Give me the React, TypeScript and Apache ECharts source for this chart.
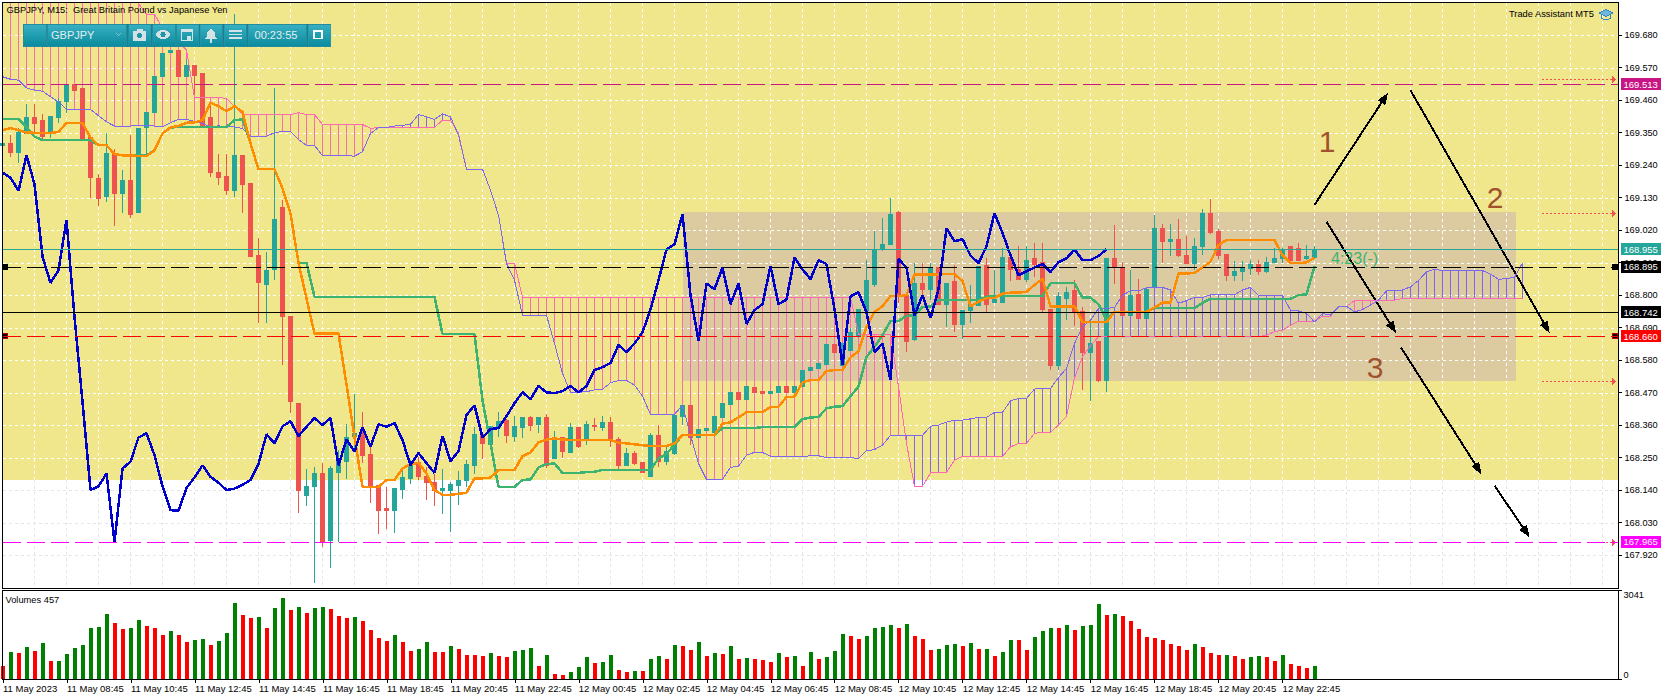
import React, { useEffect, useRef } from "react";
import * as echarts from "echarts";

const FONT = '"Liberation Sans", Arial, sans-serif';

const xTickLabels = [
  "11 May 2023", "11 May 08:45", "11 May 10:45", "11 May 12:45", "11 May 14:45", "11 May 16:45", "11 May 18:45",
  "11 May 20:45", "11 May 22:45", "12 May 00:45", "12 May 02:45", "12 May 04:45", "12 May 06:45", "12 May 08:45",
  "12 May 10:45", "12 May 12:45", "12 May 14:45", "12 May 16:45", "12 May 18:45", "12 May 20:45", "12 May 22:45",
];
const priceTicks = [
  169.68, 169.57, 169.46, 169.35, 169.24, 169.13, 169.02, 168.91, 168.8, 168.69, 168.58, 168.47, 168.36, 168.25,
  168.14, 168.03, 167.92,
];

// [open, close, low, high]
const ohlc = [
  [169.305,169.313,169.300,169.320],[169.313,169.284,169.268,169.341],[169.284,169.351,169.248,169.364],[169.347,169.401,169.347,169.445],
  [169.401,169.381,169.349,169.445],[169.392,169.336,169.328,169.414],[169.347,169.403,169.333,169.407],[169.400,169.455,169.381,169.467],
  [169.454,169.511,169.417,169.511],[169.511,169.491,169.491,169.511],[169.499,169.330,169.330,169.499],[169.333,169.197,169.129,169.333],
  [169.196,169.128,169.102,169.211],[169.132,169.280,169.116,169.347],[169.279,169.143,169.033,169.293],[169.143,169.186,169.076,169.223],
  [169.186,169.074,169.061,169.341],[169.078,169.365,169.078,169.365],[169.367,169.419,169.273,169.419],[169.417,169.541,169.417,169.541],
  [169.539,169.618,169.539,169.618],[169.620,169.629,169.620,169.629],[169.629,169.539,169.539,169.629],[169.539,169.578,169.539,169.600],
  [169.578,169.544,169.480,169.578],[169.551,169.367,169.367,169.551],[169.402,169.214,169.200,169.454],[169.216,169.197,169.172,169.277],
  [169.202,169.153,169.140,169.277],[169.153,169.273,169.132,169.751],[169.273,169.175,169.078,169.273],[169.179,168.930,168.930,169.179],
  [168.935,168.841,168.704,168.992],[168.837,168.884,168.704,168.946],[168.887,169.054,168.850,169.499],[169.096,168.726,168.563,169.121],
  [168.729,168.439,168.402,168.729],[168.433,168.140,168.063,168.433],[168.123,168.153,168.086,168.213],[168.151,168.196,167.825,168.217],
  [168.196,167.965,167.948,168.232],[167.971,168.213,167.876,168.221],[168.198,168.236,167.963,168.275],[168.236,168.318,168.179,168.365],
  [168.320,168.332,168.270,168.465],[168.337,168.258,168.232,168.404],[168.262,168.153,168.097,168.286],[168.156,168.072,167.991,168.156],
  [168.079,168.070,168.007,168.151],[168.070,168.147,167.995,168.147],[168.143,168.183,168.109,168.208],[168.179,168.224,168.160,168.241],
  [168.232,168.185,168.174,168.253],[168.185,168.165,168.106,168.219],[168.167,168.140,168.086,168.196],[168.140,168.145,168.059,168.213],
  [168.138,168.158,167.998,168.168],[168.155,168.174,168.090,168.204],[168.171,168.228,168.151,168.241],[168.222,168.329,168.194,168.352],
  [168.329,168.298,168.244,168.329],[168.295,168.356,168.275,168.356],[168.352,168.373,168.320,168.403],[168.377,168.323,168.301,168.379],
  [168.320,168.354,168.303,168.390],[168.352,168.384,168.315,168.384],[168.384,168.360,168.341,168.390],[168.361,168.384,168.332,168.384],
  [168.386,168.224,168.215,168.397],[168.248,168.311,168.248,168.341],[168.318,168.270,168.250,168.318],[168.268,168.353,168.266,168.368],
  [168.353,168.286,168.283,168.353],[168.311,168.363,168.292,168.374],[168.360,168.354,168.341,168.384],[168.353,168.367,168.341,168.390],
  [168.370,168.309,168.286,168.386],[168.312,168.224,168.212,168.320],[168.224,168.265,168.224,168.282],[168.265,168.231,168.224,168.272],
  [168.235,168.198,168.198,168.235],[168.185,168.323,168.185,168.334],[168.326,168.238,168.217,168.360],[168.238,168.272,168.224,168.286],
  [168.264,168.394,168.258,168.394],[168.390,168.427,168.360,168.427],[168.427,168.318,168.291,168.427],[168.318,168.346,168.318,168.346],
  [168.343,168.350,168.343,168.350],[168.336,168.390,168.336,168.390],[168.387,168.434,168.387,168.434],[168.431,168.471,168.431,168.471],
  [168.471,168.448,168.448,168.471],[168.448,168.492,168.448,168.492],[168.488,168.471,168.471,168.488],[168.475,168.468,168.468,168.475],
  [168.468,168.475,168.468,168.475],[168.471,168.492,168.471,168.492],[168.492,168.471,168.471,168.492],[168.471,168.492,168.471,168.492],
  [168.490,168.546,168.490,168.546],[168.543,168.556,168.543,168.556],[168.553,168.570,168.553,168.570],[168.566,168.631,168.566,168.631],
  [168.631,168.607,168.607,168.631],[168.563,168.636,168.563,168.636],[168.614,168.674,168.614,168.690],[168.664,168.751,168.655,168.751],
  [168.749,168.850,168.749,168.920],[168.834,168.954,168.826,169.017],[168.954,168.972,168.950,169.060],[168.972,169.074,168.972,169.130],
  [169.078,168.800,168.772,169.083],[168.800,168.644,168.607,168.800],[168.650,168.839,168.644,168.907],[168.839,168.820,168.792,168.909],
  [168.819,168.893,168.783,168.907],[168.893,168.769,168.766,168.893],[168.769,168.839,168.693,168.839],[168.846,168.702,168.676,168.901],
  [168.702,168.749,168.650,168.749],[168.749,168.769,168.704,168.834],[168.766,168.898,168.762,168.898],[168.901,168.769,168.742,168.924],
  [168.774,168.785,168.774,168.884],[168.774,168.927,168.774,168.958],[168.927,168.887,168.848,168.927],[168.887,168.854,168.850,168.965],
  [168.854,168.918,168.845,168.965],[168.925,168.905,168.862,168.975],[168.911,168.752,168.738,168.975],[168.752,168.563,168.546,168.752],
  [168.563,168.796,168.548,168.811],[168.790,168.810,168.715,168.828],[168.817,168.742,168.695,168.850],[168.746,168.607,168.478,168.760],
  [168.607,168.636,168.442,168.704],[168.644,168.512,168.506,168.644],[168.512,168.922,168.471,168.922],[168.922,168.893,168.839,169.037],
  [168.893,168.730,168.730,168.913],[168.730,168.800,168.730,168.884],[168.803,168.722,168.722,168.854],[168.719,168.819,168.719,168.819],
  [168.826,169.026,168.826,169.070],[169.026,168.982,168.907,169.040],[168.982,168.989,168.932,169.040],[168.989,168.934,168.929,169.057],
  [168.935,168.908,168.908,169.000],[168.908,168.965,168.884,168.993],[168.963,169.077,168.935,169.091],[169.077,169.010,169.006,169.125],
  [169.016,168.935,168.922,169.022],[168.938,168.867,168.847,168.938],[168.867,168.881,168.847,168.915],[168.881,168.893,168.847,168.915],
  [168.891,168.905,168.867,168.918],[168.905,168.878,168.867,168.918],[168.879,168.911,168.873,168.929],[168.909,168.924,168.907,168.958],
  [168.924,168.954,168.907,168.958],[168.963,168.918,168.916,168.966],[168.958,168.918,168.916,168.975],[168.924,168.932,168.918,168.969],
  [168.927,168.955,168.927,168.966],
];

const tenkan = [
  169.358,169.365,169.358,169.350,169.349,169.349,169.349,169.352,169.382,169.383,
  169.382,169.333,169.307,169.307,169.277,169.273,169.273,169.270,169.270,169.290,
  169.347,169.367,169.372,169.383,169.384,169.392,169.451,169.439,169.422,169.439,
  169.420,169.313,169.226,169.226,169.226,169.161,169.076,168.909,168.788,168.670,
  168.670,168.670,168.670,168.497,168.320,168.151,168.151,168.151,168.174,168.174,
  168.213,168.228,168.232,168.196,168.140,168.124,168.124,168.127,168.131,168.180,
  168.180,168.182,168.208,168.208,168.208,168.255,168.267,168.302,168.311,168.315,
  168.311,168.310,168.309,168.309,168.309,168.309,168.309,168.300,168.298,168.295,
  168.292,168.289,168.289,168.289,168.298,168.326,168.326,168.326,168.326,168.326,
  168.365,168.369,168.386,168.404,168.404,168.404,168.421,168.422,168.455,168.456,
  168.505,168.512,168.512,168.543,168.546,168.546,168.589,168.610,168.693,168.743,
  168.762,168.796,168.796,168.800,168.870,168.870,168.870,168.870,168.871,168.871,
  168.847,168.762,168.777,168.790,168.790,168.805,168.808,168.808,168.811,168.834,
  168.855,168.762,168.762,168.762,168.762,168.708,168.708,168.708,168.708,168.743,
  168.743,168.743,168.743,168.743,168.758,168.774,168.774,168.873,168.873,168.875,
  168.893,168.913,168.969,168.986,168.986,168.986,168.986,168.986,168.986,168.986,
  168.935,168.908,168.908,168.910,168.927,
];

const kijun = [
  169.396,169.396,169.396,169.369,169.336,169.324,169.324,169.324,169.324,169.324,
  169.324,169.324,169.307,169.307,169.277,169.273,169.273,169.273,169.273,169.290,
  169.347,169.367,169.369,169.369,169.369,169.369,169.369,169.369,169.369,169.392,
  169.394,169.313,169.226,169.226,169.226,169.161,169.076,168.909,168.909,168.794,
  168.794,168.794,168.794,168.794,168.794,168.794,168.794,168.794,168.794,168.794,
  168.794,168.794,168.794,168.794,168.794,168.668,168.668,168.668,168.668,168.668,
  168.444,168.298,168.151,168.151,168.151,168.174,168.176,168.217,168.228,168.230,
  168.198,168.198,168.198,168.201,168.202,168.208,168.208,168.208,168.208,168.208,
  168.208,168.208,168.247,168.262,168.294,168.326,168.326,168.326,168.326,168.326,
  168.350,168.350,168.350,168.350,168.350,168.353,168.353,168.353,168.353,168.353,
  168.380,168.386,168.387,168.417,168.422,168.424,168.458,168.490,168.591,168.625,
  168.664,168.712,168.712,168.729,168.732,168.760,168.762,168.783,168.783,168.783,
  168.783,168.783,168.783,168.794,168.796,168.796,168.796,168.796,168.796,168.796,
  168.796,168.840,168.840,168.840,168.840,168.791,168.791,168.769,168.715,168.743,
  168.743,168.743,168.743,168.743,168.756,168.756,168.756,168.756,168.756,168.756,
  168.774,168.787,168.787,168.787,168.787,168.787,168.787,168.787,168.787,168.787,
  168.787,168.787,168.800,168.802,168.898,
];

const chikou = [
  169.214,169.197,169.153,169.273,169.175,168.930,168.841,168.884,169.054,168.726,
  168.439,168.140,168.153,168.196,167.965,168.213,168.236,168.318,168.332,168.258,
  168.153,168.072,168.070,168.147,168.183,168.224,168.185,168.165,168.140,168.145,
  168.158,168.174,168.228,168.329,168.298,168.356,168.373,168.323,168.354,168.384,
  168.360,168.384,168.224,168.311,168.270,168.353,168.286,168.363,168.354,168.367,
  168.309,168.224,168.265,168.231,168.198,168.323,168.238,168.272,168.394,168.427,
  168.318,168.346,168.350,168.390,168.434,168.471,168.448,168.492,168.471,168.468,
  168.475,168.492,168.471,168.492,168.546,168.556,168.570,168.631,168.607,168.636,
  168.674,168.751,168.850,168.954,168.972,169.074,168.800,168.644,168.839,168.820,
  168.893,168.769,168.839,168.702,168.749,168.769,168.898,168.769,168.785,168.927,
  168.887,168.854,168.918,168.905,168.752,168.563,168.796,168.810,168.742,168.607,
  168.636,168.512,168.922,168.893,168.730,168.800,168.722,168.819,169.026,168.982,
  168.989,168.934,168.908,168.965,169.077,169.010,168.935,168.867,168.881,168.893,
  168.905,168.878,168.911,168.924,168.954,168.918,168.918,168.932,168.955,
];

const spanA = [
  169.539,169.530,169.527,169.501,169.493,169.490,169.471,169.454,169.428,169.428,
  169.428,169.428,169.407,169.386,169.372,169.369,169.372,169.374,169.374,169.372,
  169.369,169.383,169.395,169.395,169.387,169.381,169.369,169.373,169.369,169.369,
  169.364,169.338,169.336,169.338,169.349,169.354,169.354,169.326,169.306,169.306,
  169.272,169.272,169.272,169.272,169.270,169.285,169.347,169.367,169.367,169.372,
  169.374,169.378,169.411,169.403,169.394,169.413,169.403,169.341,169.226,169.226,
  169.226,169.155,169.070,168.907,168.850,168.732,168.732,168.732,168.732,168.636,
  168.535,168.471,168.471,168.473,168.479,168.481,168.503,168.511,168.511,168.495,
  168.458,168.396,168.396,168.396,168.396,168.427,168.326,168.230,168.176,168.176,
  168.176,168.217,168.221,168.258,168.268,168.267,168.255,168.254,168.254,168.254,
  168.254,168.256,168.256,168.250,168.250,168.250,168.250,168.247,168.273,168.277,
  168.292,168.325,168.325,168.325,168.325,168.325,168.356,168.360,168.370,168.377,
  168.377,168.381,168.386,168.386,168.403,168.403,168.442,168.450,168.450,168.482,
  168.484,168.484,168.521,168.552,168.636,168.693,168.715,168.755,168.755,168.758,
  168.800,168.814,168.814,168.825,168.826,168.826,168.817,168.772,168.781,168.792,
  168.792,168.801,168.801,168.801,168.801,168.817,168.826,168.798,168.798,168.798,
  168.798,168.749,168.747,168.738,168.709,168.738,168.732,168.760,168.762,168.743,
  168.751,168.766,168.783,168.814,168.817,168.817,168.828,168.849,168.879,168.887,
  168.883,168.883,168.883,168.883,168.883,168.883,168.871,168.853,168.856,168.860,
  168.909,
];

const spanB = [
  169.850,169.850,169.850,169.850,169.850,169.850,169.850,169.850,169.850,169.850,
  169.850,169.850,169.850,169.850,169.850,169.850,169.821,169.787,169.751,169.751,
  169.702,169.674,169.657,169.629,169.469,169.469,169.469,169.469,169.465,169.437,
  169.411,169.411,169.411,169.411,169.411,169.411,169.411,169.417,169.411,169.411,
  169.377,169.377,169.377,169.377,169.377,169.377,169.364,169.367,169.367,169.367,
  169.367,169.367,169.367,169.367,169.367,169.392,169.392,169.347,169.226,169.226,
  169.226,169.155,169.070,168.907,168.907,168.792,168.792,168.792,168.792,168.792,
  168.792,168.792,168.792,168.792,168.792,168.792,168.792,168.792,168.792,168.792,
  168.792,168.792,168.792,168.792,168.792,168.792,168.792,168.792,168.792,168.792,
  168.792,168.792,168.792,168.792,168.792,168.792,168.792,168.792,168.792,168.792,
  168.792,168.792,168.792,168.792,168.792,168.792,168.792,168.668,168.668,168.668,
  168.668,168.668,168.490,168.298,168.153,168.153,168.198,168.200,168.200,168.241,
  168.254,168.254,168.254,168.254,168.254,168.254,168.286,168.298,168.298,168.332,
  168.335,168.335,168.360,168.390,168.520,168.591,168.628,168.659,168.659,168.659,
  168.659,168.659,168.659,168.659,168.659,168.659,168.659,168.659,168.659,168.659,
  168.659,168.659,168.659,168.659,168.659,168.659,168.659,168.659,168.664,168.676,
  168.681,168.698,168.711,168.711,168.711,168.729,168.729,168.760,168.762,168.781,
  168.781,168.781,168.781,168.783,168.783,168.788,168.788,168.788,168.788,168.788,
  168.788,168.788,168.788,168.788,168.788,168.788,168.788,168.788,168.788,168.788,
  168.788,
];

const volumes = [
  457,937,903,1109,972,1246,629,629,869,1074,1177,1760,1795,2240,1932,1726,1760,2035,1829,1760,
  1520,1657,1520,1280,1349,1383,1177,1314,1589,2617,2206,2103,2137,1760,2446,2789,2377,2480,2275,2446,
  2480,2412,2172,2103,2137,2000,1692,1417,1314,1520,1280,972,1040,1280,937,937,1143,1040,834,834,
  800,903,800,766,972,1006,1074,457,834,183,149,251,423,766,560,594,834,320,251,286,
  286,697,800,697,1177,1143,1006,1280,800,903,869,1143,697,732,697,663,594,903,766,800,
  457,937,697,766,972,1554,1486,1383,1486,1760,1795,1863,1760,1897,1486,1383,1006,1040,1177,1212,
  1143,1246,1040,1040,800,937,1349,1349,1006,1452,1657,1760,1760,1863,1692,1829,1863,2583,2206,2240,
  2172,2000,1726,1452,1417,1349,1212,1143,1006,1212,1109,903,834,834,800,697,766,800,766,629,
  834,526,457,389,457,
];
const volumeDirections = (
  "rgrgrgrggg" + "ggggrrggrr" + "rgrrggrggg" + "rrgrggrgrg" + "grrrgrrrrg" + "rrggrrgrrr" + "rgrrgggrgr" + "rgggrggrrg" +
  "rggrgrrgrg" + "rgrgrrrgrg" + "rgrgggrrgg" + "ggrgrrrggg" + "rgrgrggrrg" + "ggrgrgggrg" + "rrrrrrrrrg" + "rrrgrrggrr" + "grrrg"
).split("");

// price levels drawn across the chart
const levels = [
  { value: 169.513, color: "#C71585", dashed: true },
  { value: 168.955, color: "#26A69A", dashed: false },
  { value: 168.895, color: "#000000", dashed: true },
  { value: 168.742, color: "#000000", dashed: false },
  { value: 168.66, color: "#FF0000", dashed: true },
  { value: 167.965, color: "#FF00FF", dashed: true },
];
// [bar from, price from, bar to, price to]
const shadeBands = [
  [0, 169.79, 202, 168.174],
  [85, 169.081, 189.2, 168.51],
];
const shadeColors = ["#F0E68C", "#DCCBA0"];
const arrowSegments = [
  [164, 169.105, 173.2, 169.485],
  [176, 169.493, 193.4, 168.671],
  [165.5, 169.048, 174.2, 168.671],
  [174.8, 168.623, 184.9, 168.193],
  [186.5, 168.155, 190.9, 167.98],
];
const alertSegments = [
  [192.4, 169.53, 201.7, 169.53],
  [192.4, 169.077, 201.7, 169.077],
  [192.4, 168.508, 201.7, 168.508],
  [200.4, 167.963, 201.7, 167.963],
];
const levelAnchors = [
  [0.3, 168.895, 0],
  [0.3, 168.66, 1],
  [201.5, 168.895, 0],
  [201.5, 168.66, 1],
];

const BAR_SLOTS = 203;
const YELLOW_FLOOR = 168.174;
const categories = Array.from({ length: BAR_SLOTS }, (_, i) => String(i));
const gridBars = Array.from({ length: 50 }, (_, i) => [(i + 1) * 4]);
const gridPrices = priceTicks.map((p) => [p]);
const hatchRows = spanA.map((a, i) => [i, a, spanB[i]]).slice(1);
const PRICE_MIN = 167.8076;
const PRICE_MAX = 169.79;

const toolbarButtons = [
  [23.5, 46], [47.5, 126], [128.5, 150.5], [152.5, 175], [176.5, 198.5], [200, 222], [224, 246], [248, 306], [308, 330.5],
];
const PANES = [
  { left: 2.5, top: 2.5, width: 1616, height: 585.8 },
  { left: 2.5, top: 590.6, width: 1616, height: 88.7 },
];

function buildToolbar() {
  const grad = () =>
    new echarts.graphic.LinearGradient(0, 0, 0, 1, [
      { offset: 0, color: "#37B0C2" },
      { offset: 1, color: "#0B8C9E" },
    ]);
  const icon = "#D5E2E5";
  const children: any[] = [
    { type: "rect", shape: { x: 23, y: 23.5, width: 308, height: 23.5 }, style: { fill: "#1B7F8E" } },
  ];
  toolbarButtons.forEach(([a, b]) => {
    children.push({
      type: "rect",
      shape: { x: a, y: 24.5, width: b - a, height: 21.5 },
      style: { fill: grad(), stroke: "#2B96A6", lineWidth: 0.6 },
    });
  });
  children.push(
    { type: "text", style: { text: "GBPJPY", x: 51, y: 34.5, font: `11px ${FONT}`, fill: "#E3EDEF", textVerticalAlign: "middle" } },
    { type: "polyline", shape: { points: [[116.5, 33.5], [118.5, 35.5], [120.5, 33.5]] }, style: { stroke: "#8FBFC8", fill: "none", lineWidth: 1 } },
    { type: "rect", shape: { x: 133, y: 31, width: 13, height: 9.5 }, style: { fill: icon } },
    { type: "rect", shape: { x: 136.5, y: 29, width: 6, height: 3 }, style: { fill: icon } },
    { type: "circle", shape: { cx: 139.5, cy: 35.5, r: 3 }, style: { fill: "#1E96A8", stroke: icon, lineWidth: 1 } },
    { type: "ellipse", shape: { cx: 163, cy: 34.5, rx: 7, ry: 4.5 }, style: { fill: icon } },
    { type: "circle", shape: { cx: 163, cy: 34.5, r: 2.6 }, style: { fill: "#1E96A8" } },
    { type: "rect", shape: { x: 181.5, y: 30, width: 11, height: 10.5 }, style: { fill: "none", stroke: icon, lineWidth: 1.6 } },
    { type: "rect", shape: { x: 181, y: 29, width: 12, height: 3 }, style: { fill: icon } },
    { type: "rect", shape: { x: 187, y: 35.5, width: 4, height: 4 }, style: { fill: icon } },
    { type: "polygon", shape: { points: [[211, 28.5], [215, 32], [215.5, 37], [217.5, 39], [204.5, 39], [206.5, 37], [207, 32]] }, style: { fill: icon } },
    { type: "circle", shape: { cx: 211, cy: 41, r: 1.6 }, style: { fill: icon } },
    { type: "rect", shape: { x: 229, y: 30, width: 12.5, height: 1.6 }, style: { fill: icon } },
    { type: "rect", shape: { x: 229, y: 33.7, width: 12.5, height: 1.6 }, style: { fill: icon } },
    { type: "rect", shape: { x: 229, y: 37.4, width: 12.5, height: 1.6 }, style: { fill: icon } },
    { type: "text", style: { text: "00:23:55", x: 276, y: 34.5, font: `11px ${FONT}`, fill: "#E3EDEF", textAlign: "center", textVerticalAlign: "middle" } },
    { type: "rect", shape: { x: 314, y: 30.5, width: 8, height: 8 }, style: { fill: "none", stroke: "#FFFFFF", lineWidth: 1.4 } },
    { type: "rect", shape: { x: 314, y: 30, width: 8, height: 2 }, style: { fill: "#FFFFFF" } },
  );
  // children do not inherit the group's z, so each one carries its own
  children.forEach((c, i) => {
    c.z = 50;
    c.z2 = i;
  });
  return { type: "group", children };
}

function buildOption() {
  const xAxisBase = { type: "category", data: categories, boundaryGap: false };
  return {
    animation: false,
    backgroundColor: "#FFFFFF",
    textStyle: { fontFamily: FONT },
    grid: PANES.map((p) => ({ ...p, show: false })),
    xAxis: [
      { ...xAxisBase, gridIndex: 0, axisLabel: { show: false }, axisTick: { show: false }, axisLine: { show: false }, splitLine: { show: false } },
      {
        ...xAxisBase,
        gridIndex: 1,
        axisLine: { show: true, onZero: false, lineStyle: { color: "#000", width: 1 } },
        axisTick: { show: true, length: 4, lineStyle: { color: "#000" }, interval: (i: number) => i % 8 === 0 && i <= 160 },
        splitLine: { show: false },
        axisLabel: {
          show: true,
          interval: (i: number) => i % 8 === 0 && i <= 160,
          formatter: (_: string, i: number) => xTickLabels[i / 8] ?? "",
          align: "left",
          margin: 4,
          fontSize: 9.5,
          color: "#000",
          fontFamily: FONT,
          hideOverlap: false,
        },
      },
      { type: "value", gridIndex: 0, min: 0, max: 202, show: false, splitLine: { show: false } },
    ],
    yAxis: [
      {
        type: "value",
        gridIndex: 0,
        position: "right",
        min: PRICE_MIN,
        max: PRICE_MAX,
        splitLine: { show: false },
        axisLine: { show: true, onZero: false, lineStyle: { color: "#000" } },
        axisTick: { show: true, length: 3, lineStyle: { color: "#000" }, customValues: priceTicks },
        axisLabel: {
          show: true,
          customValues: priceTicks,
          margin: 6,
          fontSize: 9.2,
          color: "#000",
          fontFamily: FONT,
          formatter: (v: number) => v.toFixed(3),
        },
      },
      {
        type: "value",
        gridIndex: 1,
        position: "right",
        min: 0,
        max: 3041,
        interval: 3041,
        splitLine: { show: false },
        axisLine: { show: true, onZero: false, lineStyle: { color: "#000" } },
        axisTick: { show: true, length: 3, lineStyle: { color: "#000" } },
        axisLabel: {
          show: true,
          margin: 5,
          fontSize: 9.2,
          color: "#000",
          fontFamily: FONT,
          formatter: (v: number) => String(v),
          verticalAlignMinLabel: "bottom",
          verticalAlignMaxLabel: "top",
        },
      },
    ],
    series: [
      {
        type: "custom",
        name: "shade",
        xAxisIndex: 2,
        yAxisIndex: 0,
        clip: true,
        silent: true,
        encode: { x: [0, 2], y: [1, 3] },
        data: shadeBands,
        renderItem: (params: any, api: any) => {
          const a = api.coord([api.value(0), api.value(1)]);
          const b = api.coord([api.value(2), api.value(3)]);
          return {
            type: "rect",
            shape: { x: a[0], y: a[1], width: b[0] - a[0], height: b[1] - a[1] },
            style: { fill: shadeColors[params.dataIndex] },
          };
        },
      },
      {
        type: "custom",
        name: "grid bars",
        xAxisIndex: 2,
        yAxisIndex: 0,
        clip: true,
        silent: true,
        encode: { x: 0 },
        data: gridBars,
        renderItem: (_: any, api: any) => {
          const i = api.value(0);
          const top = api.coord([i, PRICE_MAX]);
          const mid = api.coord([i, YELLOW_FLOOR]);
          const bot = api.coord([i, PRICE_MIN]);
          const x = Math.floor(top[0]) + 0.5;
          return {
            type: "group",
            children: [
              { type: "line", shape: { x1: x, y1: top[1], x2: x, y2: mid[1] }, style: { stroke: "#FFFFFF", lineWidth: 1, lineDash: [3, 3] } },
              { type: "line", shape: { x1: x, y1: mid[1], x2: x, y2: bot[1] }, style: { stroke: "#E6E6E6", lineWidth: 1, lineDash: [3, 3] } },
            ],
          };
        },
      },
      {
        type: "custom",
        name: "grid prices",
        xAxisIndex: 2,
        yAxisIndex: 0,
        clip: true,
        silent: true,
        encode: { y: 0 },
        data: gridPrices,
        renderItem: (_: any, api: any) => {
          const p = api.value(0);
          const a = api.coord([0, p]);
          const b = api.coord([202, p]);
          const y = Math.round(a[1]) + 0.5;
          return {
            type: "line",
            shape: { x1: a[0], y1: y, x2: b[0], y2: y },
            style: { stroke: p < YELLOW_FLOOR ? "#E6E6E6" : "#FFFFFF", lineWidth: 1, lineDash: [3, 3] },
          };
        },
      },
      {
        type: "custom",
        name: "cloud hatch",
        xAxisIndex: 2,
        yAxisIndex: 0,
        clip: true,
        silent: true,
        encode: { x: 0, y: [1, 2] },
        data: hatchRows,
        renderItem: (_: any, api: any) => {
          const a = api.coord([api.value(0), api.value(1)]);
          const b = api.coord([api.value(0), api.value(2)]);
          const x = Math.floor(a[0]) + 0.5;
          return {
            type: "line",
            shape: { x1: x, y1: a[1], x2: x, y2: b[1] },
            style: { stroke: api.value(2) > api.value(1) ? "#FF69B4" : "#7B68EE", lineWidth: 1 },
          };
        },
      },
      {
        type: "line",
        name: "levels",
        xAxisIndex: 0,
        yAxisIndex: 0,
        data: [],
        silent: true,
        markLine: {
          silent: true,
          symbol: "none",
          animation: false,
          precision: 3,
          data: levels.map((l) => ({
            yAxis: l.value,
            lineStyle: { color: l.color, width: 1, type: l.dashed ? [18, 6] : "solid" },
            label: {
              show: true,
              position: "end",
              distance: 2,
              formatter: l.value.toFixed(3),
              color: "#FFFFFF",
              backgroundColor: l.color,
              padding: [1, 3, 1, 3],
              fontSize: 9.5,
              fontFamily: FONT,
            },
          })),
        },
      },
      {
        type: "line",
        name: "Senkou Span B",
        xAxisIndex: 0,
        yAxisIndex: 0,
        data: spanB,
        showSymbol: false,
        silent: true,
        lineStyle: { color: "#FF69B4", width: 1 },
      },
      {
        type: "line",
        name: "Senkou Span A",
        xAxisIndex: 0,
        yAxisIndex: 0,
        data: spanA,
        showSymbol: false,
        silent: true,
        lineStyle: { color: "#7B68EE", width: 1 },
      },
      {
        type: "candlestick",
        name: "GBPJPY",
        xAxisIndex: 0,
        yAxisIndex: 0,
        data: ohlc,
        barWidth: 5,
        silent: true,
        itemStyle: { color: "#26A69A", color0: "#EF5350", borderColor: "#26A69A", borderColor0: "#EF5350", borderWidth: 1 },
      },
      {
        type: "line",
        name: "Kijun-sen",
        xAxisIndex: 0,
        yAxisIndex: 0,
        data: kijun,
        showSymbol: false,
        silent: true,
        lineStyle: { color: "#3CB371", width: 2.5 },
      },
      {
        type: "line",
        name: "Tenkan-sen",
        xAxisIndex: 0,
        yAxisIndex: 0,
        data: tenkan,
        showSymbol: false,
        silent: true,
        lineStyle: { color: "#FF8C00", width: 2.5 },
      },
      {
        type: "line",
        name: "Chikou Span",
        xAxisIndex: 0,
        yAxisIndex: 0,
        data: chikou,
        showSymbol: false,
        silent: true,
        lineStyle: { color: "#0000CD", width: 2.5 },
      },
      {
        type: "custom",
        name: "level anchors",
        xAxisIndex: 2,
        yAxisIndex: 0,
        silent: true,
        encode: { x: 0, y: 1 },
        data: levelAnchors,
        renderItem: (_: any, api: any) => {
          const c = api.coord([api.value(0), api.value(1)]);
          return {
            type: "rect",
            shape: { x: c[0] - 2.5, y: c[1] - 2.5, width: 5, height: 5 },
            style: { fill: "#000", stroke: api.value(2) ? "#C00000" : "#000", lineWidth: 1 },
          };
        },
      },
      {
        type: "custom",
        name: "alerts",
        xAxisIndex: 2,
        yAxisIndex: 0,
        silent: true,
        encode: { x: [0, 2], y: [1, 3] },
        data: alertSegments,
        renderItem: (_: any, api: any) => {
          const a = api.coord([api.value(0), api.value(1)]);
          const b = api.coord([api.value(2), api.value(3)]);
          const y = Math.round(a[1]) + 0.5;
          return {
            type: "group",
            children: [
              { type: "line", shape: { x1: a[0], y1: y, x2: b[0] - 3, y2: y }, style: { stroke: "#EF5350", lineWidth: 1, lineDash: [2, 2] } },
              { type: "polygon", shape: { points: [[b[0] - 4, y - 3.5], [b[0], y], [b[0] - 4, y + 3.5]] }, style: { fill: "#EF5350" } },
            ],
          };
        },
      },
      {
        type: "custom",
        name: "arrows",
        xAxisIndex: 2,
        yAxisIndex: 0,
        silent: true,
        encode: { x: [0, 2], y: [1, 3] },
        data: arrowSegments,
        renderItem: (_: any, api: any) => {
          const a = api.coord([api.value(0), api.value(1)]);
          const b = api.coord([api.value(2), api.value(3)]);
          const ang = Math.atan2(b[1] - a[1], b[0] - a[0]);
          const len = 12;
          const half = 4.5;
          const bx = b[0] - Math.cos(ang) * len;
          const by = b[1] - Math.sin(ang) * len;
          const nx = -Math.sin(ang) * half;
          const ny = Math.cos(ang) * half;
          return {
            type: "group",
            children: [
              { type: "line", shape: { x1: a[0], y1: a[1], x2: bx, y2: by }, style: { stroke: "#000", lineWidth: 2 } },
              { type: "polygon", shape: { points: [[b[0], b[1]], [bx + nx, by + ny], [bx - nx, by - ny]] }, style: { fill: "#000" } },
            ],
          };
        },
      },
      {
        type: "bar",
        name: "Volumes",
        xAxisIndex: 1,
        yAxisIndex: 1,
        barWidth: 4,
        silent: true,
        data: volumes,
        itemStyle: { color: (p: any) => (volumeDirections[p.dataIndex] === "g" ? "#008000" : "#FF0000") },
      },
    ],
    graphic: [
      ...PANES.map((p) => ({
        type: "rect",
        z: 30,
        silent: true,
        shape: { x: p.left, y: p.top, width: p.width, height: p.height },
        style: { fill: "none", stroke: "#000", lineWidth: 1 },
      })),
      { type: "text", z: 40, style: { text: "GBPJPY, M15:  Great Britain Pound vs Japanese Yen", x: 6.5, y: 10, font: `9.3px ${FONT}`, fill: "#000", textVerticalAlign: "middle" } },
      buildToolbar(),
      { type: "text", z: 40, style: { text: "Trade Assistant MT5", x: 1509, y: 13.5, font: `9.3px ${FONT}`, fill: "#000", textVerticalAlign: "middle" } },
      { type: "polygon", z: 40, shape: { points: [[1599, 13], [1606, 9.5], [1613, 13], [1606, 16.5]] }, style: { fill: "#6FB7E0", stroke: "#2F86C0", lineWidth: 1 } },
      { type: "polyline", z: 40, shape: { points: [[1601.5, 15], [1601.5, 18.5], [1606, 20], [1610.5, 18.5], [1610.5, 15]] }, style: { fill: "none", stroke: "#2F86C0", lineWidth: 1 } },
      { type: "text", z: 40, style: { text: "Volumes 457", x: 5.5, y: 600, font: `9.3px ${FONT}`, fill: "#000", textVerticalAlign: "middle" } },
      { type: "text", z: 40, style: { text: "1", x: 1327, y: 141, font: `30px ${FONT}`, fill: "#A0522D", textAlign: "center", textVerticalAlign: "middle" } },
      { type: "text", z: 40, style: { text: "2", x: 1495, y: 197, font: `30px ${FONT}`, fill: "#A0522D", textAlign: "center", textVerticalAlign: "middle" } },
      { type: "text", z: 40, style: { text: "3", x: 1375, y: 367, font: `30px ${FONT}`, fill: "#A0522D", textAlign: "center", textVerticalAlign: "middle" } },
      { type: "text", z: 4, style: { text: "4:23(-)", x: 1331, y: 258, font: `16px ${FONT}`, fill: "#3CB371", textVerticalAlign: "middle" } },
    ],
  };
}

export default function App() {
  const ref = useRef<HTMLDivElement | null>(null);
  useEffect(() => {
    document.body.style.margin = "0";
    const chart = echarts.init(ref.current!, null, { renderer: "svg" });
    chart.setOption(buildOption() as any);
    return () => chart.dispose();
  }, []);
  return (
    <>
      <style>{"svg path { shape-rendering: crispEdges; }"}</style>
      <div ref={ref} style={{ width: 1670, height: 700, position: "absolute", left: 0, top: 0 }} />
    </>
  );
}
